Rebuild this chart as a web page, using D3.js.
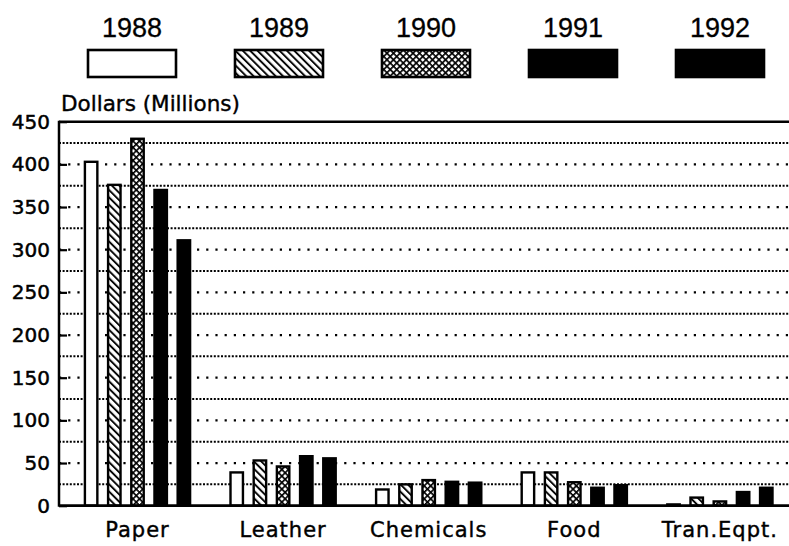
<!DOCTYPE html>
<html>
<head>
<meta charset="utf-8">
<script src="https://cdn.jsdelivr.net/npm/d3@7/dist/d3.min.js"></script>
<style>
  html, body { margin: 0; padding: 0; background: #fff; }
  svg { display: block; }
</style>
</head>
<body>
<svg id="chart" width="789" height="546"></svg>
<script>
// ---- data ----
const categories = ["Paper", "Leather", "Chemicals", "Food", "Tran.Eqpt."];
const years = ["1988", "1989", "1990", "1991", "1992"];
const values1988 = [403, 39, 19, 39, 1.5];
const values1989 = [376, 53, 25, 39, 9.5];
const values1990 = [430, 46, 30, 27.5, 5];
const values1991 = [370, 58, 28, 21, 16];
const values1992 = [311, 55.5, 27, 24, 21];
const yTicks = [0, 50, 100, 150, 200, 250, 300, 350, 400, 450];
const gridValues = [25, 50, 75, 100, 125, 150, 175, 200, 225, 250, 275, 300, 325, 350, 375, 400, 425];
const axisTitle = "Dollars (Millions)";

const seriesValues = [values1988, values1989, values1990, values1991, values1992];
const seriesFill = ["#fff", "url(#hatch)", "url(#cross)", "#000", "#000"];

const svg = d3.select("#chart");

// patterns
const defs = svg.append("defs");
const hatch = defs.append("pattern")
  .attr("id", "hatch").attr("patternUnits", "userSpaceOnUse")
  .attr("width", 5.2).attr("height", 5.2)
  .attr("patternTransform", "rotate(-45)");
hatch.append("rect").attr("width", 5.2).attr("height", 5.2).attr("fill", "#fff");
hatch.append("line").attr("x1", 1).attr("y1", 0).attr("x2", 1).attr("y2", 5.2)
  .attr("stroke", "#000").attr("stroke-width", 1.9);

const cross = defs.append("pattern")
  .attr("id", "cross").attr("patternUnits", "userSpaceOnUse")
  .attr("width", 4.6).attr("height", 4.6)
  .attr("patternTransform", "rotate(45)");
cross.append("rect").attr("width", 4.6).attr("height", 4.6).attr("fill", "#fff");
cross.append("line").attr("x1", 0.8).attr("y1", 0).attr("x2", 0.8).attr("y2", 4.6)
  .attr("stroke", "#000").attr("stroke-width", 1.7);
cross.append("line").attr("x1", 0).attr("y1", 0.8).attr("x2", 4.6).attr("y2", 0.8)
  .attr("stroke", "#000").attr("stroke-width", 1.7);

// scales
const plotLeft = 59, plotRight = 789;
const y = d3.scaleLinear().domain([0, 450]).range([505.7, 121.7]);
const x0 = d3.scaleBand().domain(categories).range([64.7, 792.7]).padding(0);
const x1 = d3.scaleBand().domain(years).range([19, 126.6]).paddingInner(0.36).paddingOuter(0);

// grid lines
const gridG = svg.append("g");
gridG.selectAll("line").data(gridValues).join("line")
  .attr("x1", plotLeft).attr("x2", plotRight)
  .attr("y1", d => y(d)).attr("y2", d => y(d))
  .attr("stroke", "#000")
  .attr("stroke-width", d => d % 50 === 0 ? 2.2 : 2)
  .attr("stroke-dasharray", d => d % 50 === 0 ? "2.2,7" : "2,1.6");

// top line
svg.append("line")
  .attr("x1", plotLeft).attr("x2", plotRight)
  .attr("y1", y(450)).attr("y2", y(450))
  .attr("stroke", "#000").attr("stroke-width", 2.5);

// bars
const groups = svg.append("g").selectAll("g").data(categories).join("g")
  .attr("transform", d => `translate(${x0(d)},0)`);
groups.selectAll("rect")
  .data((c, ci) => years.map((yr, si) => ({ yr, si, v: seriesValues[si][ci] })))
  .join("rect")
  .attr("x", d => x1(d.yr) + 1.2)
  .attr("width", x1.bandwidth() - 2.4)
  .attr("y", d => y(d.v))
  .attr("height", d => y(0) - y(d.v))
  .attr("fill", d => seriesFill[d.si])
  .attr("stroke", "#000").attr("stroke-width", 2.4);

// axes lines
svg.append("line")
  .attr("x1", plotLeft).attr("x2", plotLeft)
  .attr("y1", y(450) - 1).attr("y2", y(0) + 1)
  .attr("stroke", "#000").attr("stroke-width", 2.5);
svg.append("line")
  .attr("x1", plotLeft).attr("x2", plotRight)
  .attr("y1", y(0)).attr("y2", y(0))
  .attr("stroke", "#000").attr("stroke-width", 2.8);

// y ticks and labels
const yAxis = d3.axisLeft(y).tickValues(yTicks).tickSize(-8).tickPadding(9);
const yG = svg.append("g").attr("transform", `translate(${plotLeft},0)`).call(yAxis);
yG.select(".domain").remove();
yG.selectAll(".tick line").attr("stroke", "#000").attr("stroke-width", 2.2);
yG.selectAll(".tick text")
  .attr("font-family", "DejaVu Sans").attr("font-size", 20).attr("fill", "#000")
  .attr("stroke", "#000").attr("stroke-width", 0.5);

// category labels
svg.append("g").selectAll("text").data(categories).join("text")
  .attr("x", d => x0(d) + x0.bandwidth() / 2)
  .attr("y", 536.5)
  .attr("text-anchor", "middle")
  .attr("font-family", "DejaVu Sans").attr("font-size", 21)
  .attr("letter-spacing", 1)
  .attr("fill", "#000")
  .attr("stroke", "#000").attr("stroke-width", 0.4)
  .text(d => d);

// axis title
svg.append("text")
  .attr("x", 61).attr("y", 111)
  .attr("font-family", "DejaVu Sans").attr("font-size", 21.5)
  .attr("fill", "#000")
  .attr("stroke", "#000").attr("stroke-width", 0.4)
  .text(axisTitle);

// legend
const lx = d3.scalePoint().domain(years).range([132, 720]);
const lg = svg.append("g").selectAll("g").data(years).join("g")
  .attr("transform", d => `translate(${lx(d)},0)`);
lg.append("text")
  .attr("x", 0).attr("y", 36.5)
  .attr("text-anchor", "middle")
  .attr("font-family", "Liberation Sans, Arial, sans-serif").attr("font-size", 27)
  .attr("fill", "#000")
  .attr("stroke", "#000").attr("stroke-width", 0.3)
  .text(d => d);
lg.append("rect")
  .attr("x", -44).attr("y", 50)
  .attr("width", 88).attr("height", 27)
  .attr("fill", (d, i) => seriesFill[i])
  .attr("stroke", "#000").attr("stroke-width", 2.6);
</script>
</body>
</html>
